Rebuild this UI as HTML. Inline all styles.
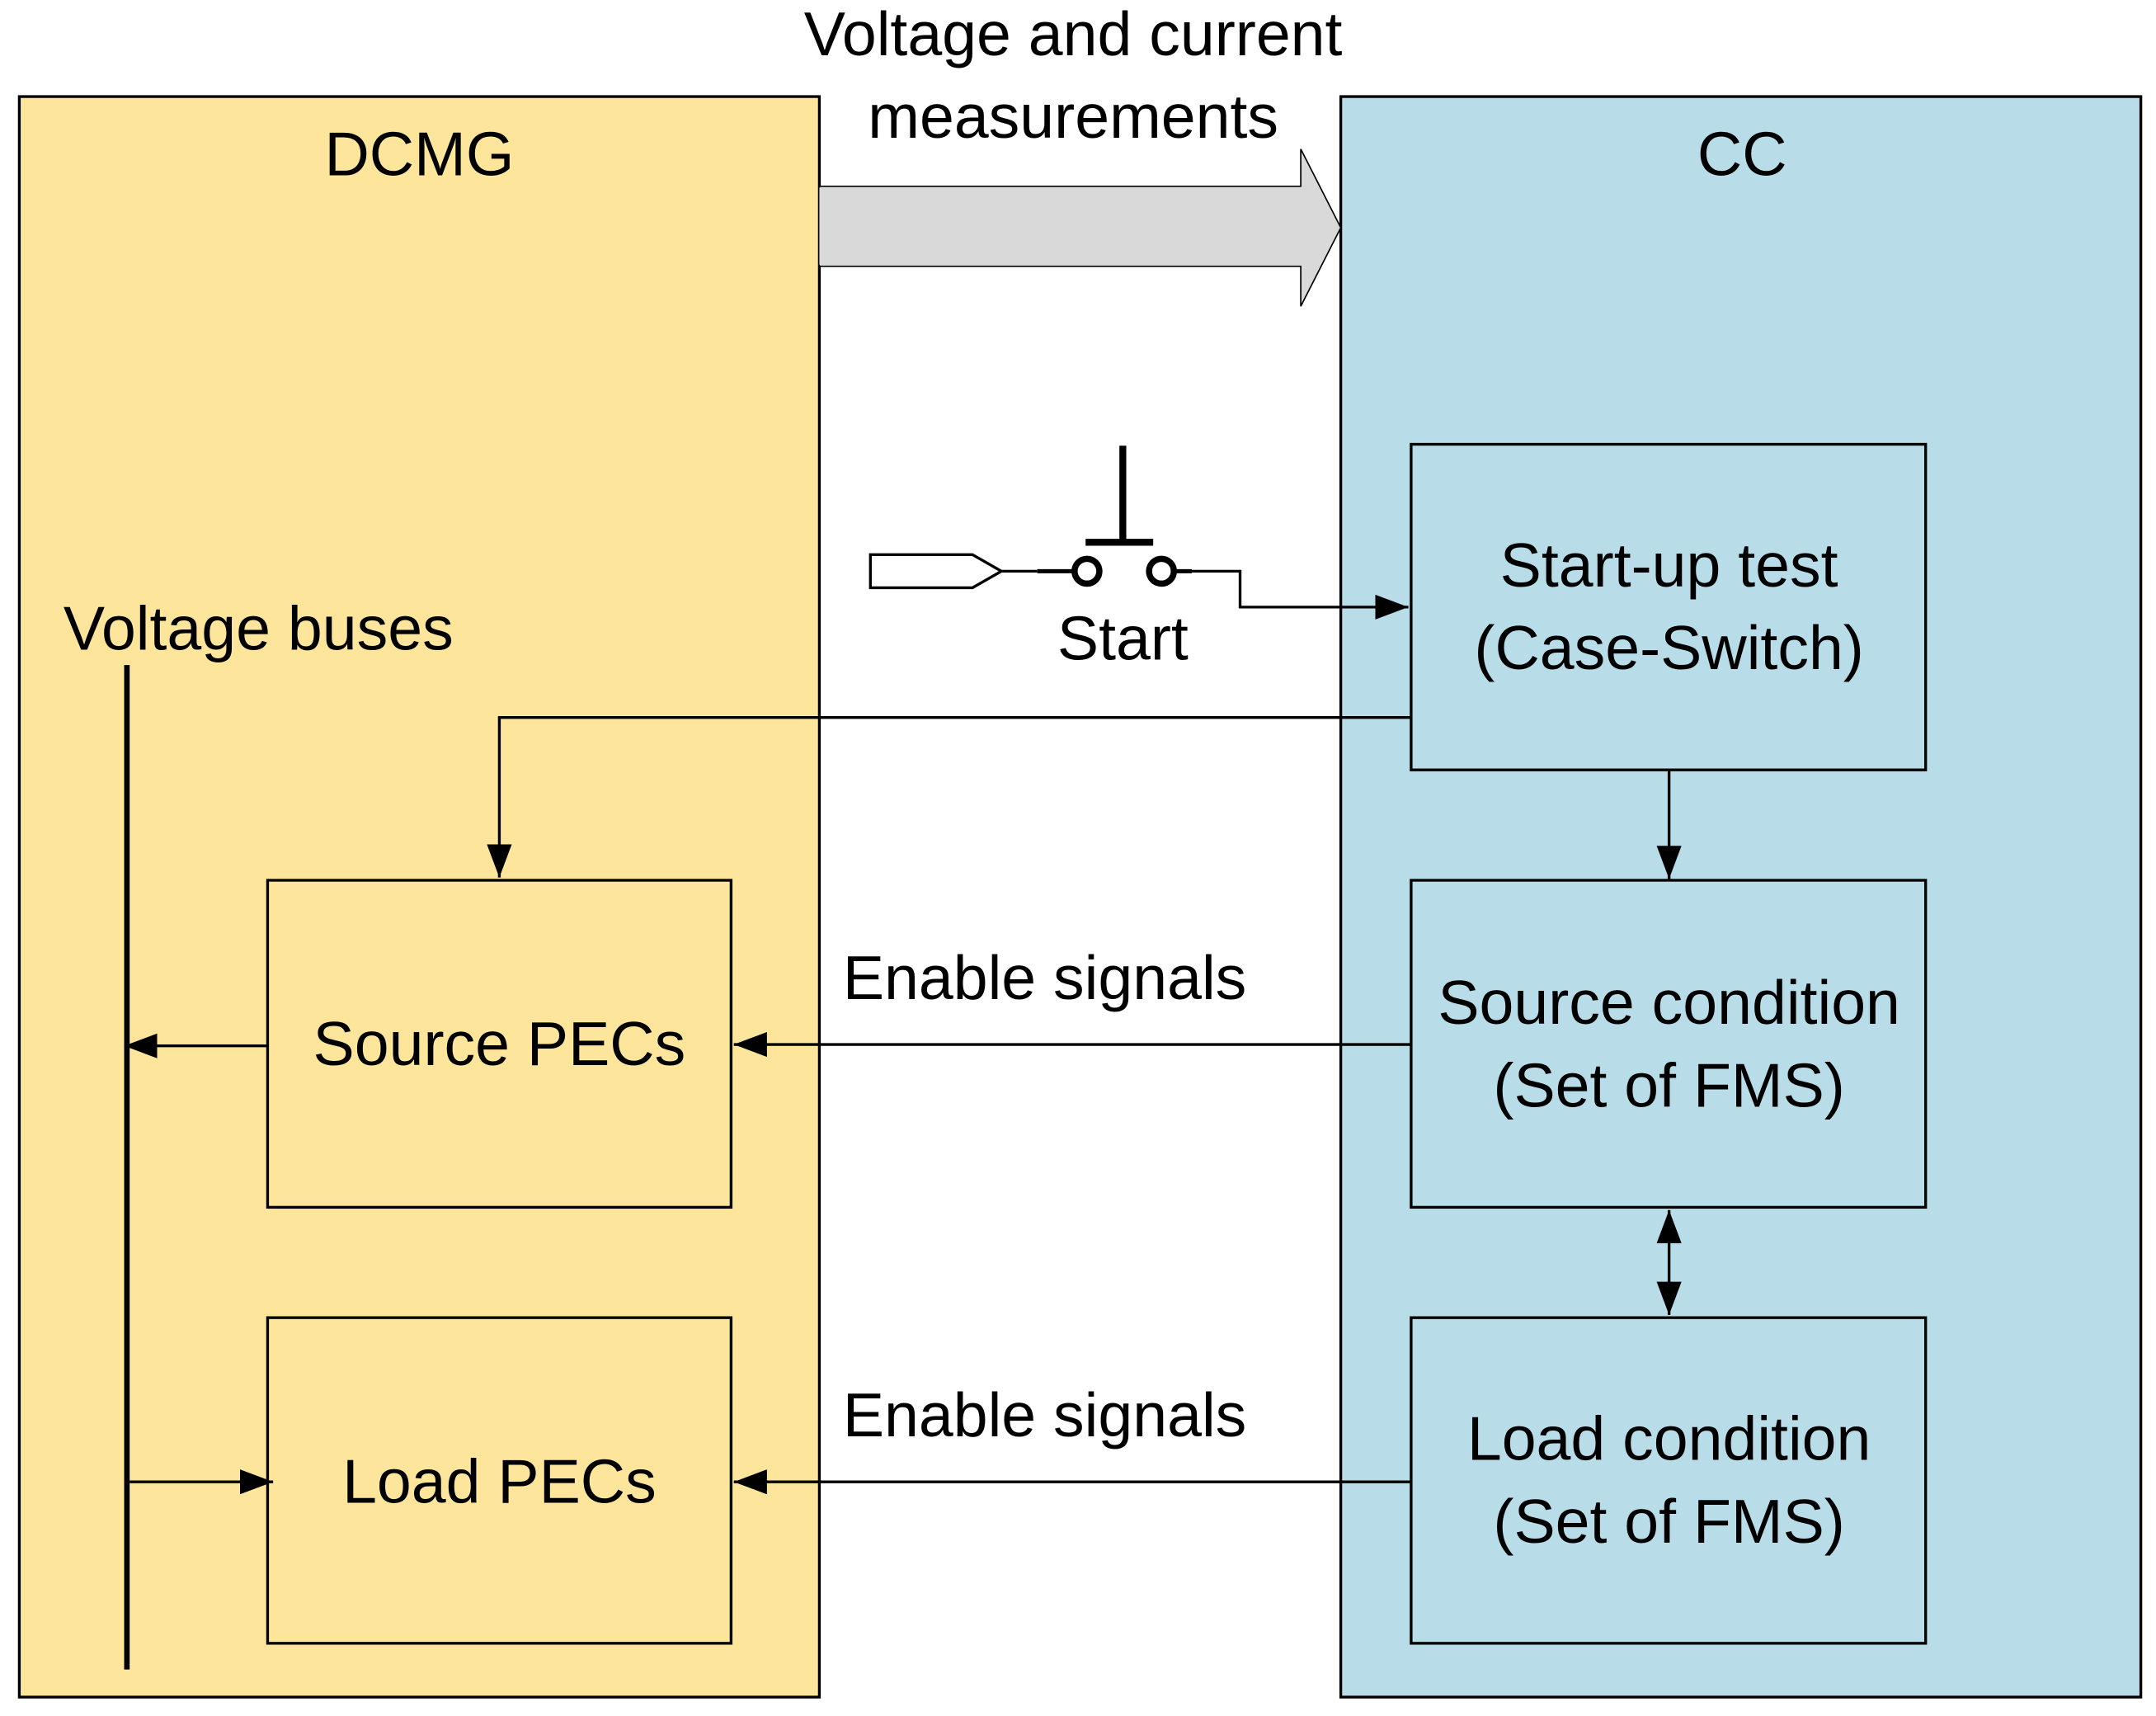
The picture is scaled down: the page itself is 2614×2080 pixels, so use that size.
<!DOCTYPE html>
<html><head><meta charset="utf-8"><style>html,body{margin:0;padding:0;background:#fff}svg{display:block}</style></head>
<body>
<svg width="2614" height="2080" viewBox="0 0 1563 1243.7" preserveAspectRatio="none" xmlns="http://www.w3.org/2000/svg">
<defs>
<marker id="b" viewBox="0 0 10 10" refX="10" refY="5" markerWidth="24" markerHeight="18" markerUnits="userSpaceOnUse" orient="auto-start-reverse" preserveAspectRatio="none"><path d="M0,0 L10,5 L0,10 z" fill="#000"/></marker>
</defs>
<g font-family="Liberation Sans, sans-serif" font-size="45" fill="#000">
<rect x="14" y="70" width="580" height="1160" fill="#FDE59B" stroke="#000" stroke-width="2"/>
<rect x="972" y="70" width="580" height="1160" fill="#B8DDE8" stroke="#000" stroke-width="2"/>
<path d="M594,135 L943,135 L943,108 L972,165 L943,222 L943,193 L594,193 Z" fill="#D9D9D9" stroke="#000" stroke-width="1"/>
<rect x="594" y="136" width="2" height="56" fill="#D9D9D9"/>
<text x="778" y="40" text-anchor="middle">Voltage and current</text>
<text x="778" y="100" text-anchor="middle">measurements</text>
<text x="304" y="127" text-anchor="middle">DCMG</text>
<text x="1263" y="127" text-anchor="middle">CC</text>
<g fill="none" stroke="#000" stroke-width="2">
<rect x="1023" y="322" width="373" height="236"/>
<rect x="1023" y="638" width="373" height="237"/>
<rect x="1023" y="955" width="373" height="236"/>
<rect x="194" y="638" width="336" height="237"/>
<rect x="194" y="955" width="336" height="236"/>
<line x1="92" y1="482" x2="92" y2="1210" stroke-width="4"/>
<line x1="194" y1="758" x2="90" y2="758" marker-end="url(#b)"/>
<line x1="94" y1="1074" x2="198" y2="1074" marker-end="url(#b)"/>
<line x1="1023" y1="757" x2="532" y2="757" marker-end="url(#b)"/>
<line x1="1023" y1="1074" x2="532" y2="1074" marker-end="url(#b)"/>
<polyline points="1023,520 362,520 362,636" marker-end="url(#b)"/>
<line x1="1210" y1="558" x2="1210" y2="637" marker-end="url(#b)"/>
<line x1="1210" y1="877" x2="1210" y2="953" marker-start="url(#b)" marker-end="url(#b)"/>
<path d="M631,402 L705,402 L726,414 L705,426 L631,426 Z"/>
<line x1="726" y1="414" x2="752" y2="414"/>
<line x1="752" y1="414" x2="779" y2="414" stroke-width="3"/>
<circle cx="788" cy="414" r="9" stroke-width="4.5"/>
<circle cx="842" cy="414" r="9" stroke-width="4.5"/>
<line x1="787" y1="393" x2="836" y2="393" stroke-width="5"/>
<line x1="814" y1="323" x2="814" y2="393" stroke-width="5"/>
<line x1="851" y1="414" x2="864" y2="414" stroke-width="3"/>
<polyline points="864,414 899,414 899,440 1021,440" marker-end="url(#b)"/>
</g>
<text x="1210" y="425" text-anchor="middle">Start-up test</text>
<text x="1210" y="485" text-anchor="middle">(Case-Switch)</text>
<text x="814" y="478" text-anchor="middle">Start</text>
<text x="46" y="471">Voltage buses</text>
<text x="611" y="724">Enable signals</text>
<text x="611" y="1041">Enable signals</text>
<text x="362" y="772" text-anchor="middle">Source PECs</text>
<text x="362" y="1089" text-anchor="middle">Load PECs</text>
<text x="1210" y="742" text-anchor="middle">Source condition</text>
<text x="1210" y="802" text-anchor="middle">(Set of FMS)</text>
<text x="1210" y="1058" text-anchor="middle">Load condition</text>
<text x="1210" y="1118" text-anchor="middle">(Set of FMS)</text>
</g>
</svg>
</body></html>
